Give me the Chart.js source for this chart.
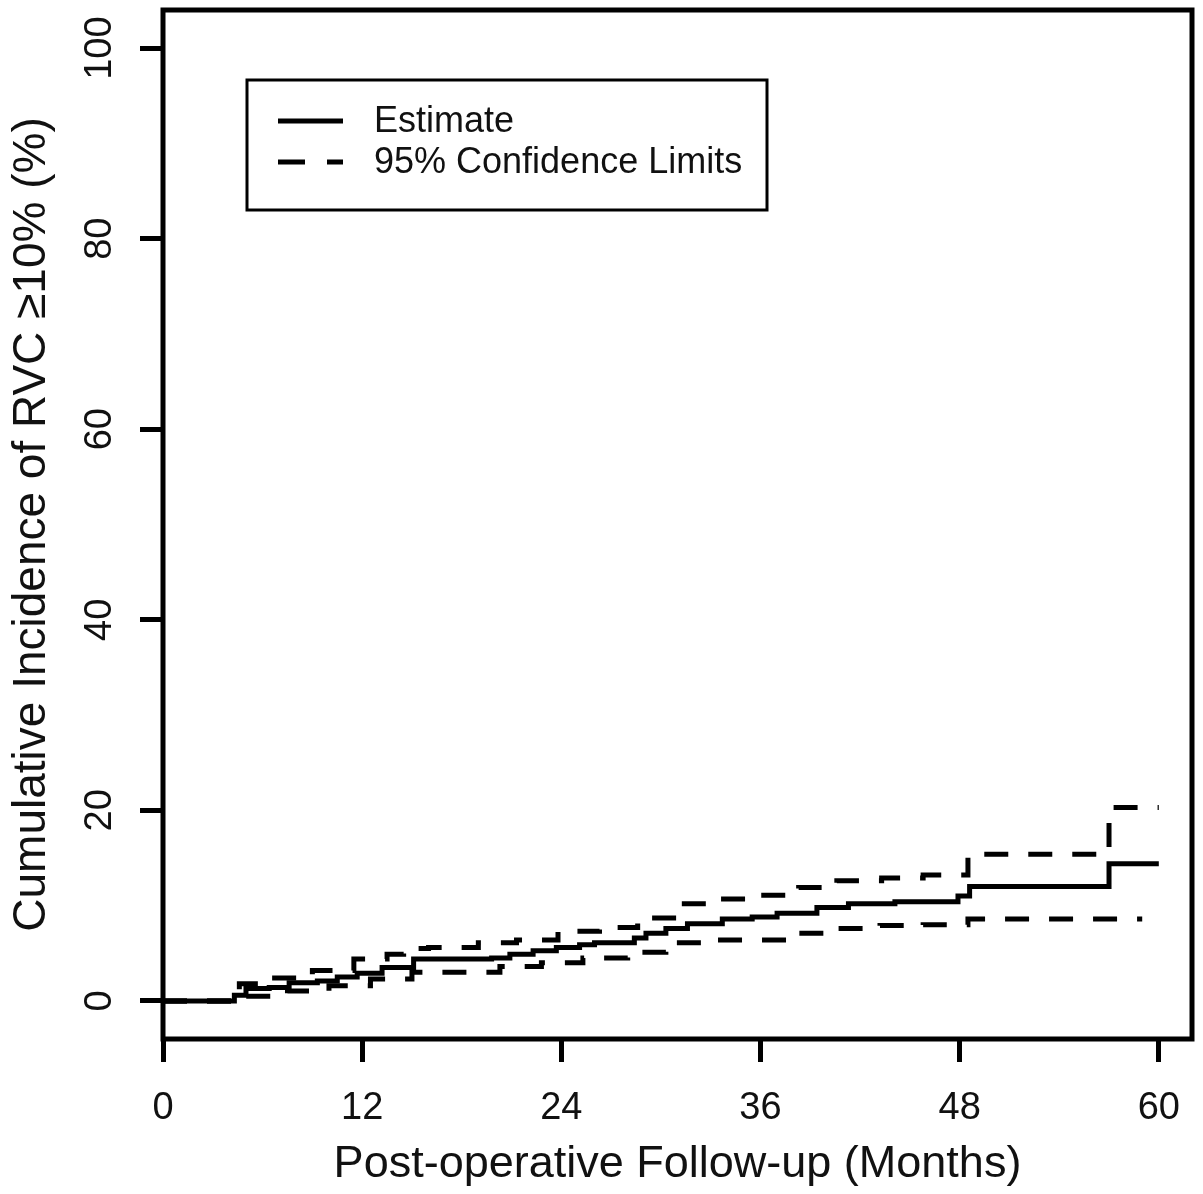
<!DOCTYPE html>
<html lang="en">
<head>
    <meta charset="UTF-8">
    <title>Cumulative Incidence of RVC</title>
    <script src="https://cdn.jsdelivr.net/npm/chart.js@4.4.0/dist/chart.umd.min.js"></script>
    <style>
        body {
            margin: 0;
            background: #fff;
        }
        .wrap {
            width: 1203px;
            height: 1194px;
            position: relative;
        }
    </style>
</head>
<body>
    <div class="wrap">
        <canvas id="incidenceChart"></canvas>
    </div>
    <script>
        // values (months, cumulative incidence %)
        var estMonths = [0, 4.3, 5.0, 6.4, 7.6, 9.3, 10.5, 11.7, 13.2, 15.1, 19.8, 20.9, 22.3, 23.7, 25.1, 26.0, 28.4, 29.1, 30.3, 31.6, 33.7, 35.5, 37.0, 39.4, 41.3, 44.1, 47.9, 48.6, 57.0, 60.0];
        var estValues = [0, 0.6, 1.3, 1.4, 1.9, 2.1, 2.5, 2.9, 3.5, 4.4, 4.5, 4.9, 5.25, 5.6, 5.9, 6.1, 6.6, 7.1, 7.6, 8.1, 8.6, 8.8, 9.2, 9.8, 10.2, 10.4, 11.0, 12.0, 14.4, 14.4];

        var upperMonths = [0, 4.2, 4.6, 6.5, 9.0, 11.5, 13.5, 14.5, 16.0, 19.0, 21.3, 23.8, 26.3, 28.6, 31.0, 33.2, 35.8, 38.3, 40.6, 43.3, 45.8, 48.5, 57.0, 60.0];
        var upperValues = [0, 0.9, 1.8, 2.4, 3.2, 4.4, 4.9, 5.5, 5.6, 6.1, 6.4, 7.3, 7.7, 8.7, 10.2, 10.7, 11.1, 11.9, 12.6, 12.9, 13.2, 15.4, 20.3, 20.3];

        var lowerMonths = [0, 4.5, 5.0, 7.5, 10.0, 12.5, 15.0, 20.3, 22.8, 25.3, 28.0, 30.3, 33.0, 38.0, 40.5, 43.2, 45.8, 48.5, 59.0];
        var lowerValues = [0, 0.3, 0.5, 1.05, 1.6, 2.3, 3.0, 3.6, 4.0, 4.5, 5.1, 6.1, 6.4, 7.1, 7.6, 7.9, 8.0, 8.6, 8.6];

        var xTicks = [0, 12, 24, 36, 48, 60];
        var yTicks = [0, 20, 40, 60, 80, 100];

        var legendLabels = ['Estimate', '95% Confidence Limits'];

        var fontFamily = '"Liberation Sans", Arial, sans-serif';
        var dashPattern = [24, 20];

        function toPoints(xs, ys) {
            return xs.map(function (x, i) { return { x: x, y: ys[i] }; });
        }

        function stepSet(label, xs, ys, dashed) {
            return {
                label: label,
                data: toPoints(xs, ys),
                stepped: true,
                borderColor: '#000',
                borderWidth: 5,
                borderDash: dashed ? dashPattern : [],
                pointRadius: 0,
                fill: false
            };
        }

        // frame around the plot region plus the boxed legend
        var framePlugin = {
            id: 'frame',
            afterDatasetsDraw: function (chart) {
                var ctx = chart.ctx;
                var a = chart.chartArea;
                ctx.save();
                ctx.strokeStyle = '#000';
                ctx.lineWidth = 5;
                ctx.strokeRect(a.left, a.top, a.right - a.left, a.bottom - a.top);

                var bx = a.left + 84, by = a.top + 70, bw = 520, bh = 130;
                ctx.lineWidth = 3;
                ctx.strokeRect(bx, by, bw, bh);

                ctx.lineWidth = 5;
                ctx.beginPath();
                ctx.moveTo(bx + 31, by + 41);
                ctx.lineTo(bx + 96, by + 41);
                ctx.stroke();
                ctx.setLineDash([27, 22]);
                ctx.beginPath();
                ctx.moveTo(bx + 31, by + 82);
                ctx.lineTo(bx + 96, by + 82);
                ctx.stroke();
                ctx.setLineDash([]);

                ctx.fillStyle = '#111';
                ctx.font = '36px ' + fontFamily;
                ctx.textBaseline = 'middle';
                ctx.textAlign = 'left';
                ctx.fillText(legendLabels[0], bx + 127, by + 42);
                ctx.fillText(legendLabels[1], bx + 127, by + 83);
                ctx.restore();
            }
        };

        var ctx = document.getElementById('incidenceChart').getContext('2d');
        var incidenceChart = new Chart(ctx, {
            type: 'line',
            data: {
                datasets: [
                    stepSet('Estimate', estMonths, estValues, false),
                    stepSet('Upper limit', upperMonths, upperValues, true),
                    stepSet('Lower limit', lowerMonths, lowerValues, true)
                ]
            },
            options: {
                responsive: true,
                maintainAspectRatio: false,
                animation: false,
                layout: {
                    padding: { top: 10, right: 11, left: 0, bottom: 0 }
                },
                plugins: {
                    legend: { display: false },
                    tooltip: { enabled: false }
                },
                scales: {
                    x: {
                        type: 'linear',
                        min: 0,
                        max: 62,
                        afterBuildTicks: function (scale) {
                            scale.ticks = xTicks.map(function (v) { return { value: v }; });
                        },
                        afterFit: function (scale) {
                            scale.height = 155;
                            scale.paddingLeft = 0;
                            scale.paddingRight = 0;
                        },
                        grid: {
                            drawOnChartArea: false,
                            drawTicks: true,
                            tickLength: 23,
                            tickWidth: 5,
                            tickColor: '#000'
                        },
                        border: { display: false },
                        ticks: {
                            padding: 24,
                            color: '#111',
                            maxRotation: 0,
                            font: { family: fontFamily, size: 38 }
                        },
                        title: {
                            display: true,
                            text: 'Post-operative Follow-up (Months)',
                            color: '#111',
                            padding: { top: 0, bottom: 2 },
                            font: { family: fontFamily, size: 45 }
                        }
                    },
                    y: {
                        min: -4,
                        max: 104,
                        afterBuildTicks: function (scale) {
                            scale.ticks = yTicks.map(function (v) { return { value: v }; });
                        },
                        afterFit: function (scale) {
                            scale.width = 163;
                            scale.paddingTop = 0;
                            scale.paddingBottom = 0;
                        },
                        grid: {
                            drawOnChartArea: false,
                            drawTicks: true,
                            tickLength: 23,
                            tickWidth: 5,
                            tickColor: '#000'
                        },
                        border: { display: false },
                        ticks: {
                            padding: 8,
                            color: '#111',
                            minRotation: 90,
                            maxRotation: 90,
                            crossAlign: 'center',
                            font: { family: fontFamily, size: 38 }
                        },
                        title: {
                            display: true,
                            text: 'Cumulative Incidence of RVC \u226510% (%)',
                            color: '#111',
                            padding: { top: 5, bottom: 0 },
                            font: { family: fontFamily, size: 46 }
                        }
                    }
                }
            },
            plugins: [framePlugin]
        });
    </script>
</body>
</html>
